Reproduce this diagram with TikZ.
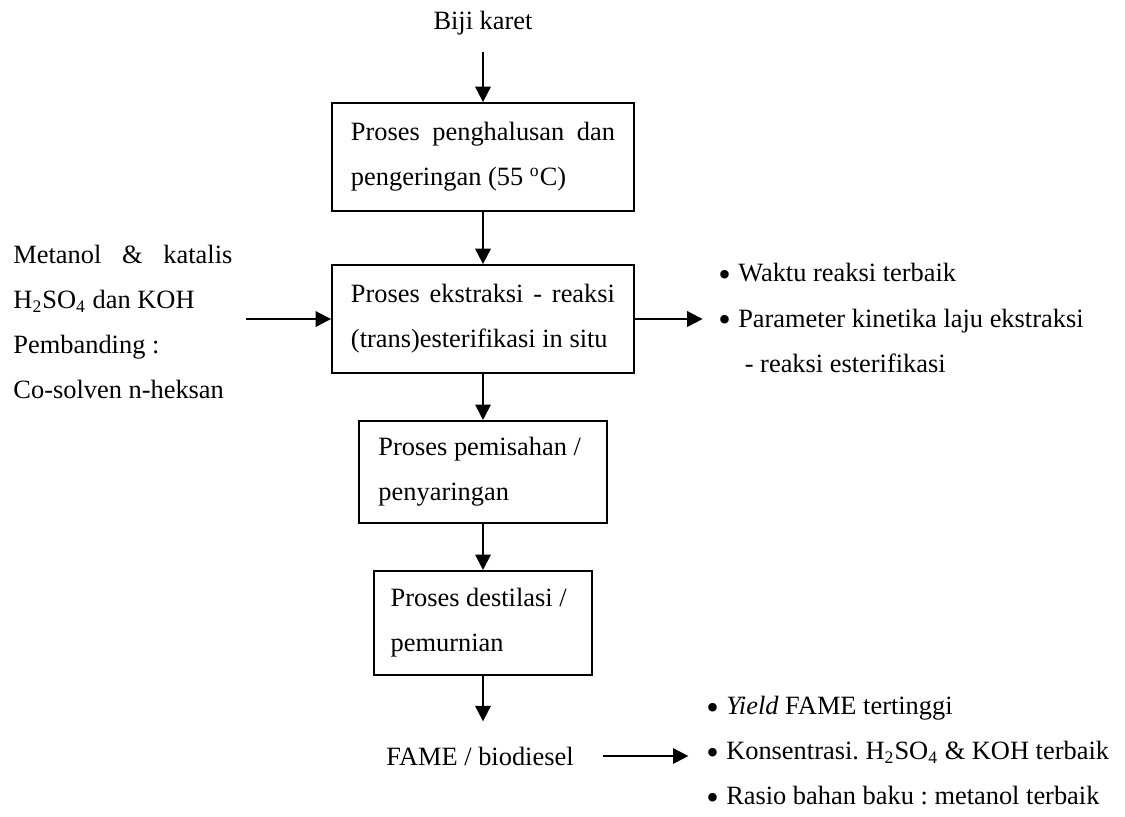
\documentclass[tikz,border=0pt]{standalone}
\usepackage{fontspec}
\setmainfont{Liberation Serif}
\usetikzlibrary{arrows.meta}
\frenchspacing

\newcommand{\butir}{\makebox[9pt][l]{\raisebox{-2.2pt}{\scalebox{1.35}{\textbullet}}}}

\begin{document}
\begin{tikzpicture}[x=0.4545pt,y=-0.4545pt,
		every node/.style={font=\fontsize{12}{20.5}\selectfont},
		proses/.style={draw,line width=0.9pt,inner ysep=0pt,align=flush left},
		teks/.style={inner sep=0pt,align=flush left},
		panah/.style={line width=0.9pt,-{Triangle[length=7pt,width=7pt]}}]
	\useasboundingbox (0,0) rectangle (1125,816);
	\node (biji) at (483,23) {Biji karet};
	\node[proses,text width=120pt,inner xsep=8.6pt,minimum height=49pt] (halus) at (483,157)
		{Proses\hfill penghalusan\hfill dan\\pengeringan (55 \textsuperscript{o}C)};
	\node[proses,text width=120pt,inner xsep=8.6pt,minimum height=49pt] (ekstraksi) at (483,319)
		{Proses\hfill ekstraksi\hfill -\hfill reaksi\\(trans)esterifikasi in situ};
	\node[proses,text width=95pt,inner xsep=8.8pt,minimum height=46.4pt] (pisah) at (483,472)
		{Proses pemisahan /\\penyaringan};
	\node[proses,text width=84pt,inner xsep=7.7pt,minimum height=47.3pt] (destilasi) at (483,623)
		{Proses destilasi /\\pemurnian};
	\node (fame) at (480,756) {FAME / biodiesel};
	\node[teks,text width=99.5pt,anchor=west] (masukan) at (13,322)
		{Metanol\hfill\&\hfill katalis\\
		H\textsubscript{2}SO\textsubscript{4} dan KOH\\
		Pembanding :\\
		Co-solven n-heksan};
	\node[teks,anchor=west] (hasil1) at (718,318)
		{\butir Waktu reaksi terbaik\\
		\butir Parameter kinetika laju ekstraksi\\
		\hspace*{12pt}- reaksi esterifikasi};
	\node[teks,anchor=west] (hasil2) at (706,753)
		{\butir \textit{Yield} FAME tertinggi\\
		\butir Konsentrasi. H\textsubscript{2}SO\textsubscript{4} \& KOH terbaik\\
		\butir Rasio bahan baku : metanol terbaik};
	% alur utama
	\draw[panah,shorten <=4pt] (biji) -- (halus);
	\draw[panah] (halus) -- (ekstraksi);
	\draw[panah] (ekstraksi) -- (pisah);
	\draw[panah] (pisah) -- (destilasi);
	\draw[panah,shorten >=8pt] (destilasi.south) -- (destilasi.south |- fame.north);
	% masukan dan hasil
	\draw[panah,shorten <=6pt] (masukan.east |- ekstraksi.west) -- (ekstraksi.west);
	\draw[panah,shorten >=7pt] (ekstraksi.east) -- (ekstraksi.east -| hasil1.west);
	\draw[panah,shorten <=10pt,shorten >=8pt] (fame.east) -- (fame.east -| hasil2.west);
\end{tikzpicture}
\end{document}
